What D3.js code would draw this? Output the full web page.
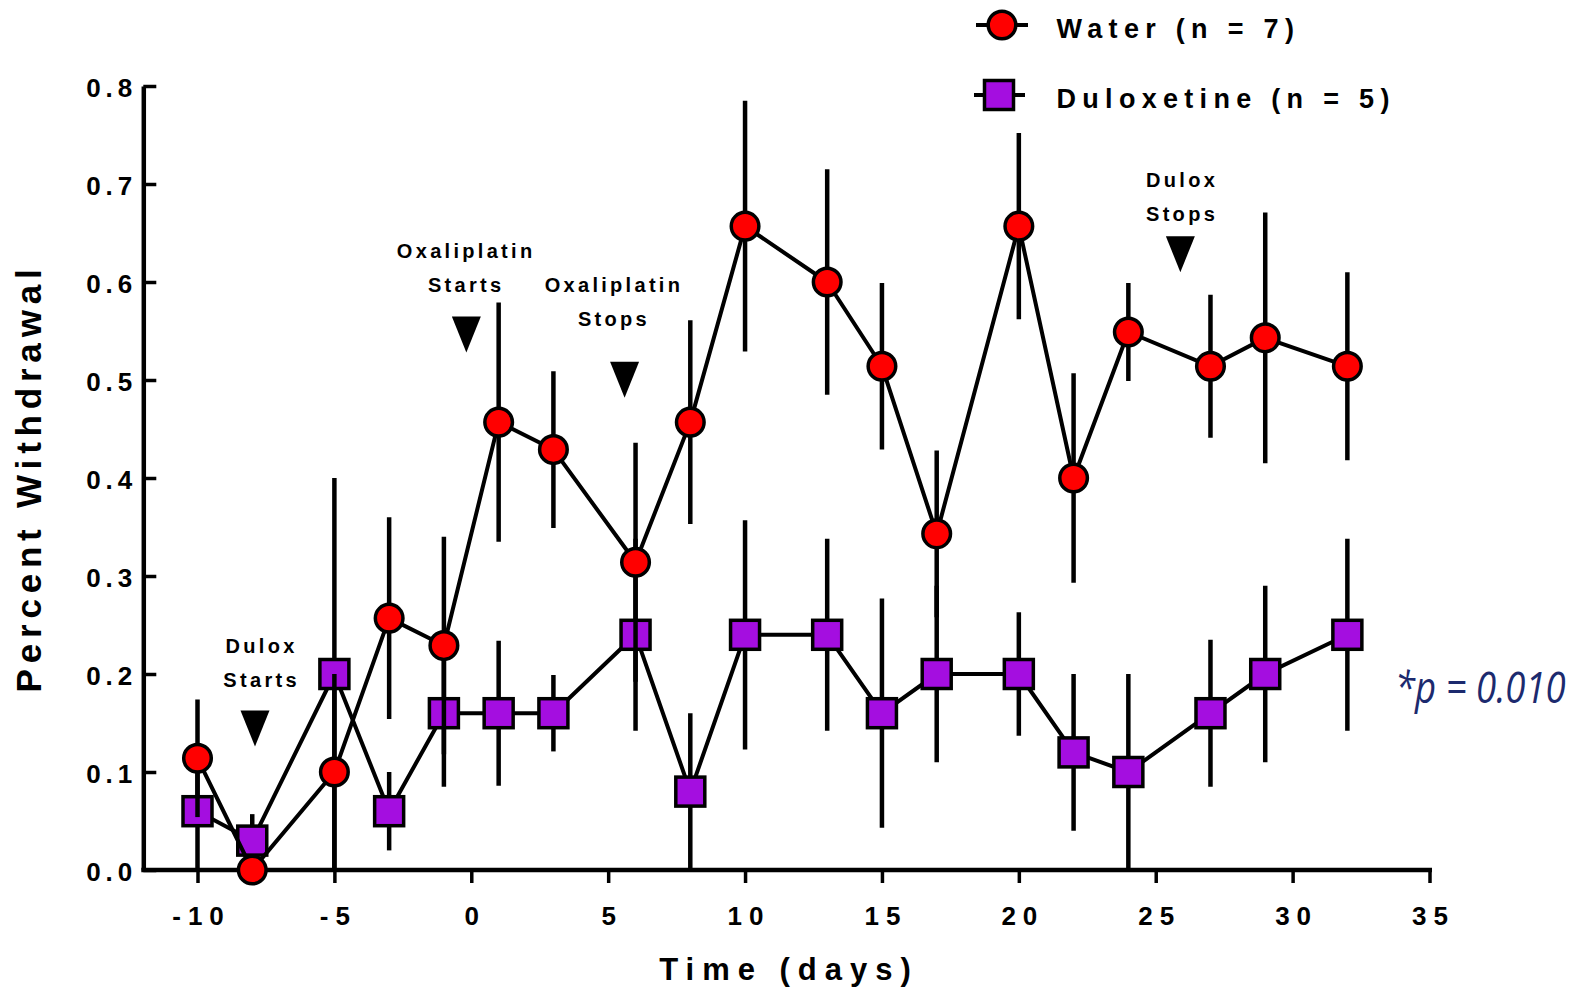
<!DOCTYPE html>
<meta charset="utf-8">
<style>
  body { margin: 0; background: #fff; }
  svg text { font-family: "Liberation Sans", Arial, sans-serif; font-weight: bold; fill: #000; }
</style>
<div id="chart"></div>
<script src="https://d3js.org/d3.v7.min.js"></script>
<script>

// data
var days = [-10, -8, -5, -3, -1, 1, 3, 6, 8, 10, 13, 15, 17, 20, 22, 24, 27, 29, 32];

var waterMean = [0.114, 0.0, 0.1, 0.257, 0.229, 0.457, 0.429, 0.314, 0.457, 0.657,
                 0.6, 0.514, 0.343, 0.657, 0.4, 0.549, 0.514, 0.543, 0.514];
var waterSem  = [0.06, 0.0, 0.1, 0.103, 0.111, 0.122, 0.08, 0.122, 0.104, 0.128,
                 0.115, 0.085, 0.085, 0.095, 0.107, 0.05, 0.073, 0.128, 0.096];

var duloxMean = [0.06, 0.03, 0.2, 0.06, 0.16, 0.16, 0.16, 0.24, 0.08, 0.24,
                 0.24, 0.16, 0.2, 0.2, 0.12, 0.1, 0.16, 0.2, 0.24];
var duloxSem  = [0.06, 0.027, 0.2, 0.04, 0.075, 0.074, 0.039, 0.098, 0.08, 0.117,
                 0.098, 0.117, 0.09, 0.063, 0.08, 0.1, 0.075, 0.09, 0.098];

var xTicks = [-10, -5, 0, 5, 10, 15, 20, 25, 30, 35];
var yTicks = [0, 0.1, 0.2, 0.3, 0.4, 0.5, 0.6, 0.7, 0.8];

var seriesNames = ["Water (n = 7)", "Duloxetine (n = 5)"];

// treatment markers: triangle day / tip value, label centre day / first baseline value
var annotations = [
  {day: -7.9, tip: 0.126, textDay: -7.72, textVal: 0.2214, lines: ["Dulox", "Starts"]},
  {day: -0.18, tip: 0.528, textDay: -0.25, textVal: 0.624, lines: ["Oxaliplatin", "Starts"]},
  {day: 5.6, tip: 0.482, textDay: 5.15, textVal: 0.590, lines: ["Oxaliplatin", "Stops"]},
  {day: 25.9, tip: 0.61, textDay: 25.9, textVal: 0.697, lines: ["Dulox", "Stops"]}
];

var pText = "*p = 0.010";

var W = 1580, H = 991;

var svg = d3.select("#chart")
  .append("svg")
    .attr("width", W)
    .attr("height", H);

var x = d3.scaleLinear().domain([-10, 35]).range([197.5, 1429.5]);
var y = d3.scaleLinear().domain([0, 0.8]).range([870, 86]);
var axisX0 = 143.3;

var red = "#ff0000", purple = "#a40ee0";

// X axis
var gx = svg.append("g")
  .attr("transform", "translate(0,870)")
  .call(d3.axisBottom(x).tickValues(xTicks).tickSize(13).tickPadding(24).tickFormat(d3.format("d")));
gx.select(".domain").remove();
gx.selectAll(".tick line").attr("stroke", "#000").attr("stroke-width", 3.5);
gx.selectAll(".tick text")
  .style("font-size", "26px")
  .style("letter-spacing", "7px")
  .attr("dx", 3.5)
  .text(function(d) { return d < 0 ? "-" + Math.abs(d) : d; });
gx.append("line")
  .attr("x1", axisX0 - 2).attr("x2", 1432)
  .attr("stroke", "#000").attr("stroke-width", 4.5);

// Y axis, ticks pointing inward
var gy = svg.append("g")
  .attr("transform", "translate(" + axisX0 + ",0)")
  .call(d3.axisLeft(y).tickValues(yTicks).tickSizeInner(-13).tickSizeOuter(0).tickPadding(6)
        .tickFormat(d3.format(".1f")));
gy.select(".domain").attr("stroke", "#000").attr("stroke-width", 4.5);
gy.selectAll(".tick line").attr("stroke", "#000").attr("stroke-width", 3.5);
gy.selectAll(".tick text")
  .style("font-size", "26px")
  .style("letter-spacing", "5px")
  .attr("dy", "0.42em");

// axis titles
svg.append("text")
  .attr("x", 789).attr("y", 980)
  .attr("text-anchor", "middle")
  .style("font-size", "31px")
  .style("letter-spacing", "8px")
  .text("Time (days)");

svg.append("text")
  .attr("transform", "translate(41,478) rotate(-90)")
  .attr("text-anchor", "middle")
  .style("font-size", "35px")
  .style("letter-spacing", "5.8px")
  .text("Percent Withdrawal");

// one group per series, duloxetine underneath water
function drawSeries(mean, sem, color, shape) {
  var pts = days.map(function(d, i) { return {d: d, m: mean[i], s: sem[i]}; });
  var g = svg.append("g");

  g.selectAll("line.err")
    .data(pts)
    .enter().append("line")
      .attr("class", "err")
      .attr("x1", function(p) { return x(p.d); })
      .attr("x2", function(p) { return x(p.d); })
      .attr("y1", function(p) { return y(Math.max(0, p.m - p.s)); })
      .attr("y2", function(p) { return y(p.m + p.s); })
      .attr("stroke", "#000")
      .attr("stroke-width", 4.5);

  g.append("path")
    .datum(pts)
    .attr("fill", "none")
    .attr("stroke", "#000")
    .attr("stroke-width", 4)
    .attr("stroke-linejoin", "round")
    .attr("d", d3.line().x(function(p) { return x(p.d); }).y(function(p) { return y(p.m); }));

  if (shape === "circle") {
    g.selectAll("circle")
      .data(pts)
      .enter().append("circle")
        .attr("cx", function(p) { return x(p.d); })
        .attr("cy", function(p) { return y(p.m); })
        .attr("r", 13.8)
        .attr("fill", color)
        .attr("stroke", "#000")
        .attr("stroke-width", 3.5);
  } else {
    g.selectAll("rect")
      .data(pts)
      .enter().append("rect")
        .attr("x", function(p) { return x(p.d) - 14.5; })
        .attr("y", function(p) { return y(p.m) - 14.5; })
        .attr("width", 29)
        .attr("height", 29)
        .attr("fill", color)
        .attr("stroke", "#000")
        .attr("stroke-width", 3.5);
  }
}

drawSeries(duloxMean, duloxSem, purple, "square");
drawSeries(waterMean, waterSem, red, "circle");

// treatment annotations
var ann = svg.append("g")
  .selectAll("g")
  .data(annotations)
  .enter().append("g");

ann.append("path")
  .attr("d", function(a) {
    var cx = x(a.day), ty = y(a.tip);
    return "M" + (cx - 14.5) + "," + (ty - 36) + "L" + (cx + 14.5) + "," + (ty - 36) + "L" + cx + "," + ty + "Z";
  })
  .attr("fill", "#000");

ann.each(function(a) {
  var g = d3.select(this);
  a.lines.forEach(function(t, i) {
    g.append("text")
      .attr("x", x(a.textDay) + 1.7)
      .attr("y", y(a.textVal) + i * 34)
      .attr("text-anchor", "middle")
      .style("font-size", "20px")
      .style("letter-spacing", "3.3px")
      .text(t);
  });
});

// legend
var legend = svg.append("g");
legend.append("line").attr("x1", 976).attr("x2", 1028).attr("y1", 25).attr("y2", 25)
  .attr("stroke", "#000").attr("stroke-width", 4);
legend.append("circle").attr("cx", 1002).attr("cy", 25).attr("r", 13.8)
  .attr("fill", red).attr("stroke", "#000").attr("stroke-width", 3.5);
legend.append("line").attr("x1", 974).attr("x2", 1025).attr("y1", 95).attr("y2", 95)
  .attr("stroke", "#000").attr("stroke-width", 4);
legend.append("rect").attr("x", 999 - 14.5).attr("y", 95 - 14.5).attr("width", 29).attr("height", 29)
  .attr("fill", purple).attr("stroke", "#000").attr("stroke-width", 3.5);

legend.selectAll("text")
  .data(seriesNames)
  .enter().append("text")
    .attr("x", 1056.5)
    .attr("y", function(d, i) { return 38 + i * 70; })
    .style("font-size", "27px")
    .style("letter-spacing", "6.3px")
    .text(function(d) { return d; });

// significance note, squeezed horizontally like the original
svg.append("text")
  .attr("transform", "translate(1395,703) scale(0.85,1)")
  .style("font-family", "'Open Sans', 'Noto Sans', sans-serif")
  .style("font-weight", "normal")
  .style("font-style", "italic")
  .style("font-size", "43px")
  .style("fill", "#1c2a6e")
  .text(pText);

</script>
